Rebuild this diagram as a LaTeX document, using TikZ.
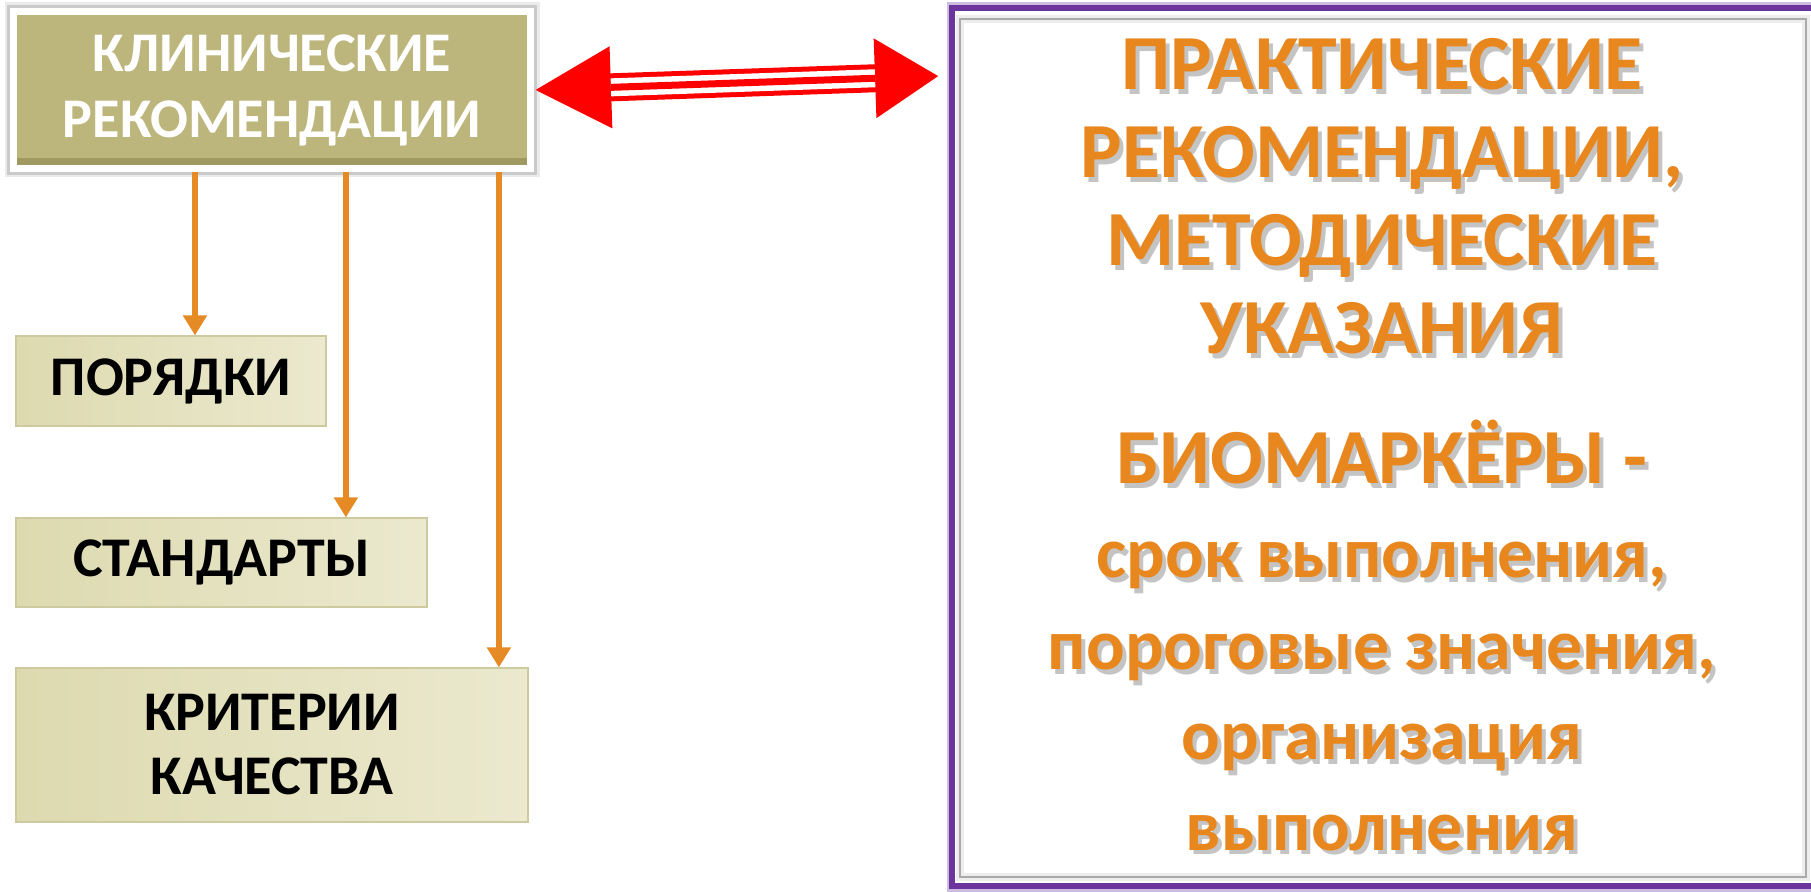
\documentclass[tikz,border=0pt]{standalone}
\usepackage{fontspec}
\setmainfont{Carlito}
\usepackage{tikz}
\usetikzlibrary{arrows.meta,calc}

\definecolor{khakiL}{RGB}{221,218,176}
\definecolor{khakiR}{RGB}{235,233,206}

\begin{document}
\begin{tikzpicture}[x=0.5pt,y=0.5pt,yscale=-1,xscale=1,
  headbox/.style={draw={rgb, 255:red, 255; green, 255; blue, 255 }, line width=3.5pt, fill={rgb, 255:red, 189; green, 182; blue, 124 }, text=white, font=\fontsize{28}{33}\selectfont\bfseries, align=center, inner sep=0pt,
    preaction={draw=black, draw opacity=0.08, line width=9pt},
    preaction={draw=black, draw opacity=0.14, line width=6.5pt}},
  docbox/.style={draw={rgb, 255:red, 206; green, 202; blue, 160 }, line width=0.6pt, left color=khakiL, right color=khakiR, text=black, font=\fontsize{28}{32}\selectfont\bfseries, align=center, inner sep=0pt},
  orline/.style={draw={rgb, 255:red, 229; green, 138; blue, 36 }, line width=3.25pt, -{Triangle[length=10pt,width=11.5pt]}},
  ortext/.style={text={rgb, 255:red, 232; green, 135; blue, 30 }, font=\fontsize{36}{40}\selectfont\bfseries, anchor=base, inner sep=0pt},
  shtext/.style={text={rgb, 255:red, 60; green, 60; blue, 60 }, text opacity=0.3, font=\fontsize{36}{40}\selectfont\bfseries, anchor=base, inner sep=0pt},
  caps/.style={font=\fontsize{39}{40}\selectfont\bfseries}
]
\useasboundingbox (0,0) rectangle (1811,892);

%Shape: Rectangle
\draw (272,90) node (klin) [headbox, minimum width=258.5pt, minimum height=78.5pt,
  path picture={\fill[fill={rgb, 255:red, 160; green, 153; blue, 98 }] (path picture bounding box.south west) rectangle ($(path picture bounding box.south east)!0.065!(path picture bounding box.north east)$);}] {КЛИНИЧЕСКИЕ\\РЕКОМЕНДАЦИИ};

%Shape: Rectangle
\draw (171,381) node (porjad) [docbox, minimum width=155pt, minimum height=45pt] {ПОРЯДКИ};
%Shape: Rectangle
\draw (221.5,562.5) node (stand) [docbox, minimum width=205.5pt, minimum height=44.5pt] {СТАНДАРТЫ};
%Shape: Rectangle
\draw (272,745) node (krit) [docbox, minimum width=256pt, minimum height=77pt] {КРИТЕРИИ\\КАЧЕСТВА};

%Shape: Rectangle
\draw (1383.5,447) node (prakt) [draw={rgb, 255:red, 108; green, 52; blue, 156 }, line width=3pt, preaction={draw={rgb, 255:red, 205; green, 188; blue, 226 }, line width=5.5pt}, fill=white, minimum width=431.5pt, minimum height=439pt, inner sep=0pt] {};
%Shape: Rectangle
\draw (1383,448) node (praktin) [draw={rgb, 255:red, 170; green, 170; blue, 170 }, line width=1.2pt, preaction={draw=black, draw opacity=0.07, line width=4pt}, minimum width=423pt, minimum height=429pt, inner sep=0pt] {};

%Straight Lines
\coordinate (s1) at ($(klin.south west)!0.353!(klin.south east)$);
\coordinate (s2) at ($(klin.south west)!0.641!(klin.south east)$);
\coordinate (s3) at ($(klin.south west)!0.933!(klin.south east)$);
\draw [orline] (s1) -- (s1 |- porjad.north);
\draw [orline] (s2) -- (s2 |- stand.north);
\draw [orline] (s3) -- (s3 |- krit.north);

%Straight Lines
\coordinate (rt) at ($(prakt.north west)!0.08!(prakt.south west)$);
\draw [draw=red, line width=14pt, {Triangle[length=38.5pt,width=38pt]}-{Triangle[length=32pt,width=37.5pt]}, shorten >=5pt] (klin.east) -- (rt);
\draw [draw=white, line width=9pt, shorten <=38.5pt, shorten >=37pt] (klin.east) -- (rt);
\draw [draw=red, line width=3.5pt, shorten <=38.5pt, shorten >=37pt] (klin.east) -- (rt);

% Text Node
\draw (1386,95) node (t1s) [shtext, caps] {ПРАКТИЧЕСКИЕ};
\draw (1382,90) node (t1) [ortext, caps] {ПРАКТИЧЕСКИЕ};
% Text Node
\draw (1386,183) node (t2s) [shtext, caps] {РЕКОМЕНДАЦИИ,};
\draw (1382,178) node (t2) [ortext, caps] {РЕКОМЕНДАЦИИ,};
% Text Node
\draw (1386,271) node (t3s) [shtext, caps] {МЕТОДИЧЕСКИЕ};
\draw (1382,266) node (t3) [ortext, caps] {МЕТОДИЧЕСКИЕ};
% Text Node
\draw (1386,359) node (t4s) [shtext, caps] {УКАЗАНИЯ};
\draw (1382,354) node (t4) [ortext, caps] {УКАЗАНИЯ};
% Text Node
\draw (1386,489) node (t5s) [shtext, caps] {БИОМАРКЁРЫ -};
\draw (1382,484) node (t5) [ortext, caps] {БИОМАРКЁРЫ -};
% Text Node
\draw (1386,583) node (t6s) [shtext] {срок выполнения,};
\draw (1382,578) node (t6) [ortext] {срок выполнения,};
% Text Node
\draw (1386,675) node (t7s) [shtext] {пороговые значения,};
\draw (1382,670) node (t7) [ortext] {пороговые значения,};
% Text Node
\draw (1386,765) node (t8s) [shtext] {организация};
\draw (1382,760) node (t8) [ortext] {организация};
% Text Node
\draw (1386,855) node (t9s) [shtext] {выполнения};
\draw (1382,850) node (t9) [ortext] {выполнения};

\end{tikzpicture}
\end{document}
